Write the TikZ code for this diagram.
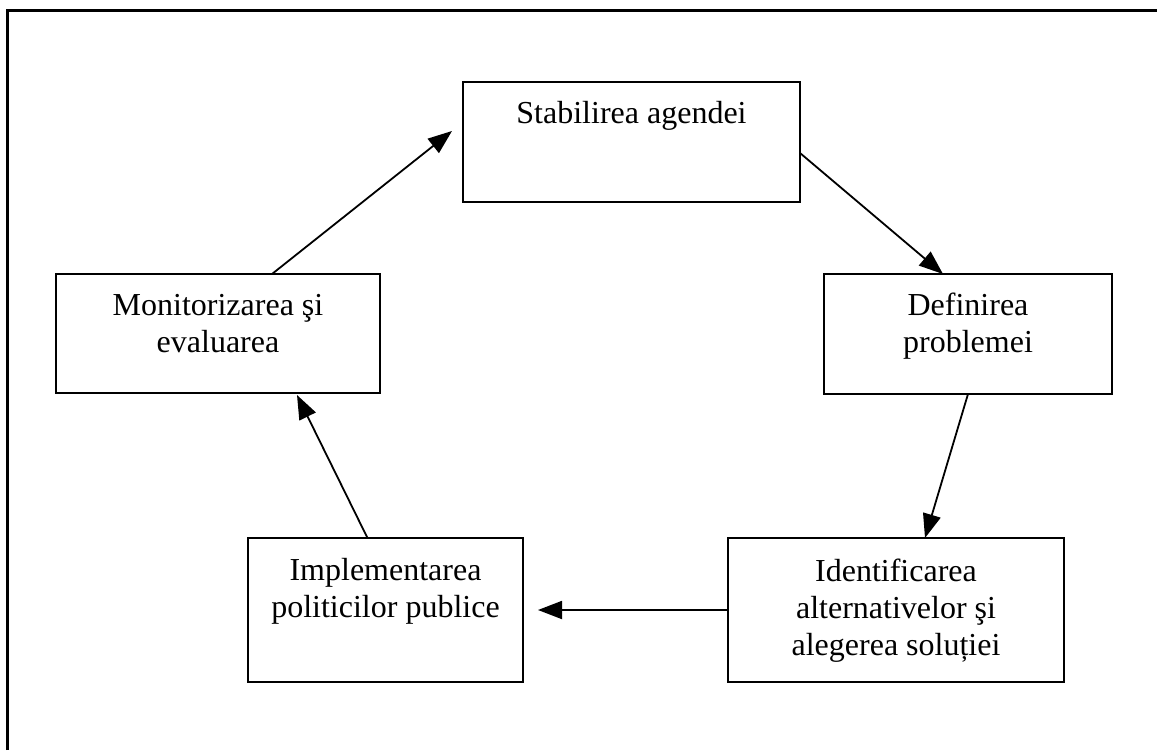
\documentclass[tikz,border=0pt]{standalone}
\usepackage{fontspec}
\setmainfont{Liberation Serif}
\usetikzlibrary{arrows.meta}
\tikzset{
  box/.style={draw, line width=2.4pt, rectangle, inner sep=0pt, outer sep=0pt},
  lbl/.style={align=center, inner sep=0pt, anchor=base, font=\fontsize{32pt}{37pt}\selectfont},
  arr/.style={line width=1.8pt, -{Triangle[length=24pt,width=18pt]}},
  frame/.style={line width=3pt}
}
\begin{document}
\begin{tikzpicture}[x=1pt,y=-1pt]
\useasboundingbox (0,0) rectangle (1157,750);
\coordinate (ftl) at (7.5,10);
\coordinate (fbl) at (7.5,750);
\coordinate (ftr) at (1157,10);
\draw[frame] (fbl) -- (ftl) -- (ftr);

\node[box, minimum width=337pt, minimum height=120pt] (st) at (631.5,142) {};
\node[box, minimum width=324pt, minimum height=119pt] (mon) at (218,333.5) {};
\node[box, minimum width=288pt, minimum height=120pt] (def) at (968,334) {};
\node[box, minimum width=275pt, minimum height=144pt] (imp) at (385.5,610) {};
\node[box, minimum width=336pt, minimum height=144pt] (idf) at (896,610) {};

\node[lbl] (stt) at ([yshift=-41pt]st.north) {Stabilirea agendei};
\node[lbl] (mont) at ([yshift=-78pt]mon.north) {Monitorizarea şi\\evaluarea};
\node[lbl] (deft) at ([yshift=-78pt]def.north) {Definirea\\problemei};
\node[lbl] (impt) at ([yshift=-79pt]imp.north) {Implementarea\\politicilor publice};
\node[lbl] (idft) at ([yshift=-117pt]idf.north) {Identificarea\\alternativelor şi\\alegerea soluției};

\draw[arr] ([xshift=54pt]mon.north) -- ([xshift=-11pt,yshift=11pt]st.west);
\draw[arr] ([yshift=-11pt]st.east) -- ([xshift=-25pt]def.north);
\draw[arr] (def.south) -- ([xshift=29pt]idf.north);
\draw[arr] (idf.west) -- ([xshift=15pt]imp.east);
\draw[arr] ([xshift=-18pt]imp.north) -- ([xshift=79pt,yshift=-2pt]mon.south);
\end{tikzpicture}
\end{document}
